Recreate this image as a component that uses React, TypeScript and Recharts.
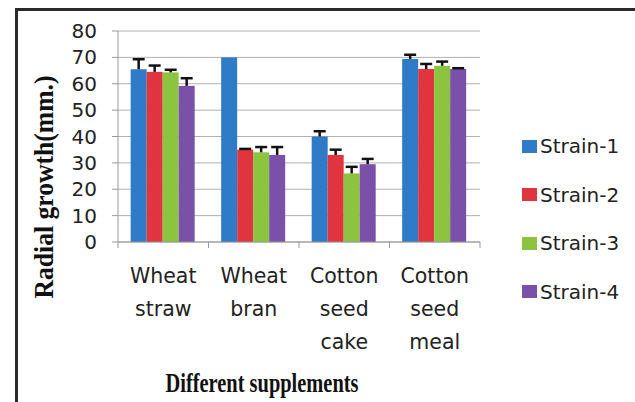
import React from "react";
import {
  BarChart,
  Bar,
  XAxis,
  YAxis,
  CartesianGrid,
  Label,
} from "recharts";

const categories = ["Wheat straw", "Wheat bran", "Cotton seed cake", "Cotton seed meal"];
const strainNames = ["Strain-1", "Strain-2", "Strain-3", "Strain-4"];
const strainColors = ["#2f7bc8", "#e0353f", "#8cc43f", "#7a50a8"];

// mean radial growth per supplement, one array per strain
const strain1 = [65.5, 70, 40, 69.4];
const strain2 = [64.5, 35, 33, 65.6];
const strain3 = [64.3, 34, 26, 66.8];
const strain4 = [59.2, 33, 29.5, 65.6];

// upper error (plus direction only)
const strain1Err = [3.8, 0, 2, 1.6];
const strain2Err = [2.4, 0.3, 2, 1.9];
const strain3Err = [1, 2, 2.5, 1.6];
const strain4Err = [2.9, 3, 2, 0.3];

const yTicks = [0, 10, 20, 30, 40, 50, 60, 70, 80];

const values = [strain1, strain2, strain3, strain4];
const errors = [strain1Err, strain2Err, strain3Err, strain4Err];

const data = categories.map((name, i) => {
  const row: any = { name };
  strainNames.forEach((s, k) => {
    row[s] = values[k][i];
    row[s + "_err"] = errors[k][i];
  });
  return row;
});

const FONT = "'DejaVu Sans', sans-serif";
const SERIF = "'Liberation Serif', 'Times New Roman', serif";

// bar with an Excel-style "plus" error bar on top
const makeShape = (key: string, color: string) => (props: any) => {
  const { x, y, width, height, payload } = props;
  const val = payload[key];
  const err = payload[key + "_err"];
  const pxPerUnit = val ? height / val : 0;
  const errPx = err * pxPerUnit;
  const cx = x + width / 2;
  return (
    <g>
      <rect x={x} y={y} width={width} height={height} fill={color} />
      {err > 0 && (
        <g stroke="#111" strokeWidth={2.5}>
          <line x1={cx} y1={y} x2={cx} y2={y - errPx} />
          <line x1={cx - 6} y1={y - errPx} x2={cx + 6} y2={y - errPx} />
        </g>
      )}
    </g>
  );
};

const CategoryTick = (props: any) => {
  const { x, y, payload, index, visibleTicksCount, width } = props;
  const band = width / visibleTicksCount;
  const lines = String(payload.value).split(" ");
  return (
    <g>
      <line x1={x - band / 2} y1={y - 8} x2={x - band / 2} y2={y - 2} stroke="#999" />
      {index === visibleTicksCount - 1 && (
        <line x1={x + band / 2} y1={y - 8} x2={x + band / 2} y2={y - 2} stroke="#999" />
      )}
      {lines.map((l, i) => (
        <text
          key={i}
          x={x}
          y={y + 33 + i * 33}
          textAnchor="middle"
          fontSize={20.5}
          fontFamily={FONT}
          fill="#222"
        >
          {l}
        </text>
      ))}
    </g>
  );
};

export default function App() {
  return (
    <div style={{ position: "absolute", left: 0, top: 0, width: 635, height: 402, background: "#fff", overflow: "hidden" }}>
      <div
        style={{
          position: "absolute",
          left: 15,
          top: 8,
          width: 640,
          height: 410,
          borderTop: "3px solid #2a2a2a",
          borderLeft: "3px solid #2a2a2a",
        }}
      />
      <BarChart
        width={635}
        height={402}
        data={data}
        margin={{ top: 31, right: 155, bottom: 60, left: 68 }}
        barCategoryGap="14%"
        barGap={0}
        style={{ position: "absolute", left: 0, top: 0 }}
      >
        <CartesianGrid vertical={false} stroke="#b0b0b0" />
        <XAxis
          dataKey="name"
          height={100}
          interval={0}
          tick={<CategoryTick />}
          tickLine={false}
          axisLine={{ stroke: "#999" }}
        >
          <Label
            content={() => (
              <text
                x={262}
                y={392}
                textAnchor="middle"
                fontSize={27}
                fontWeight="bold"
                fontFamily={SERIF}
                fill="#111"
                textLength={193}
                lengthAdjust="spacingAndGlyphs"
              >
                Different supplements
              </text>
            )}
          />
        </XAxis>
        <YAxis
          width={50}
          domain={[0, 80]}
          ticks={yTicks}
          interval={0}
          tickSize={6}
          tickMargin={15}
          tickLine={{ stroke: "#999" }}
          axisLine={{ stroke: "#999" }}
          tick={{ fontSize: 20, fontFamily: FONT, fill: "#222" }}
        >
          <Label
            content={() => (
              <text
                x={53}
                y={187}
                transform="rotate(-90 53 187)"
                textAnchor="middle"
                fontSize={27}
                fontWeight="bold"
                fontFamily={SERIF}
                fill="#111"
                textLength={223}
                lengthAdjust="spacingAndGlyphs"
              >
                Radial growth(mm.)
              </text>
            )}
          />
        </YAxis>
        {strainNames.map((s, i) => (
          <Bar key={s} dataKey={s} fill={strainColors[i]} isAnimationActive={false} shape={makeShape(s, strainColors[i])} />
        ))}
      </BarChart>
      <div style={{ position: "absolute", left: 522, top: 122 }}>
        {strainNames.map((s, i) => (
          <div
            key={s}
            style={{ display: "flex", alignItems: "center", height: 48.5, fontFamily: FONT, fontSize: 20, color: "#222" }}
          >
            <span style={{ width: 15, height: 13, background: strainColors[i], marginRight: 3, display: "inline-block" }} />
            {s}
          </div>
        ))}
      </div>
    </div>
  );
}
